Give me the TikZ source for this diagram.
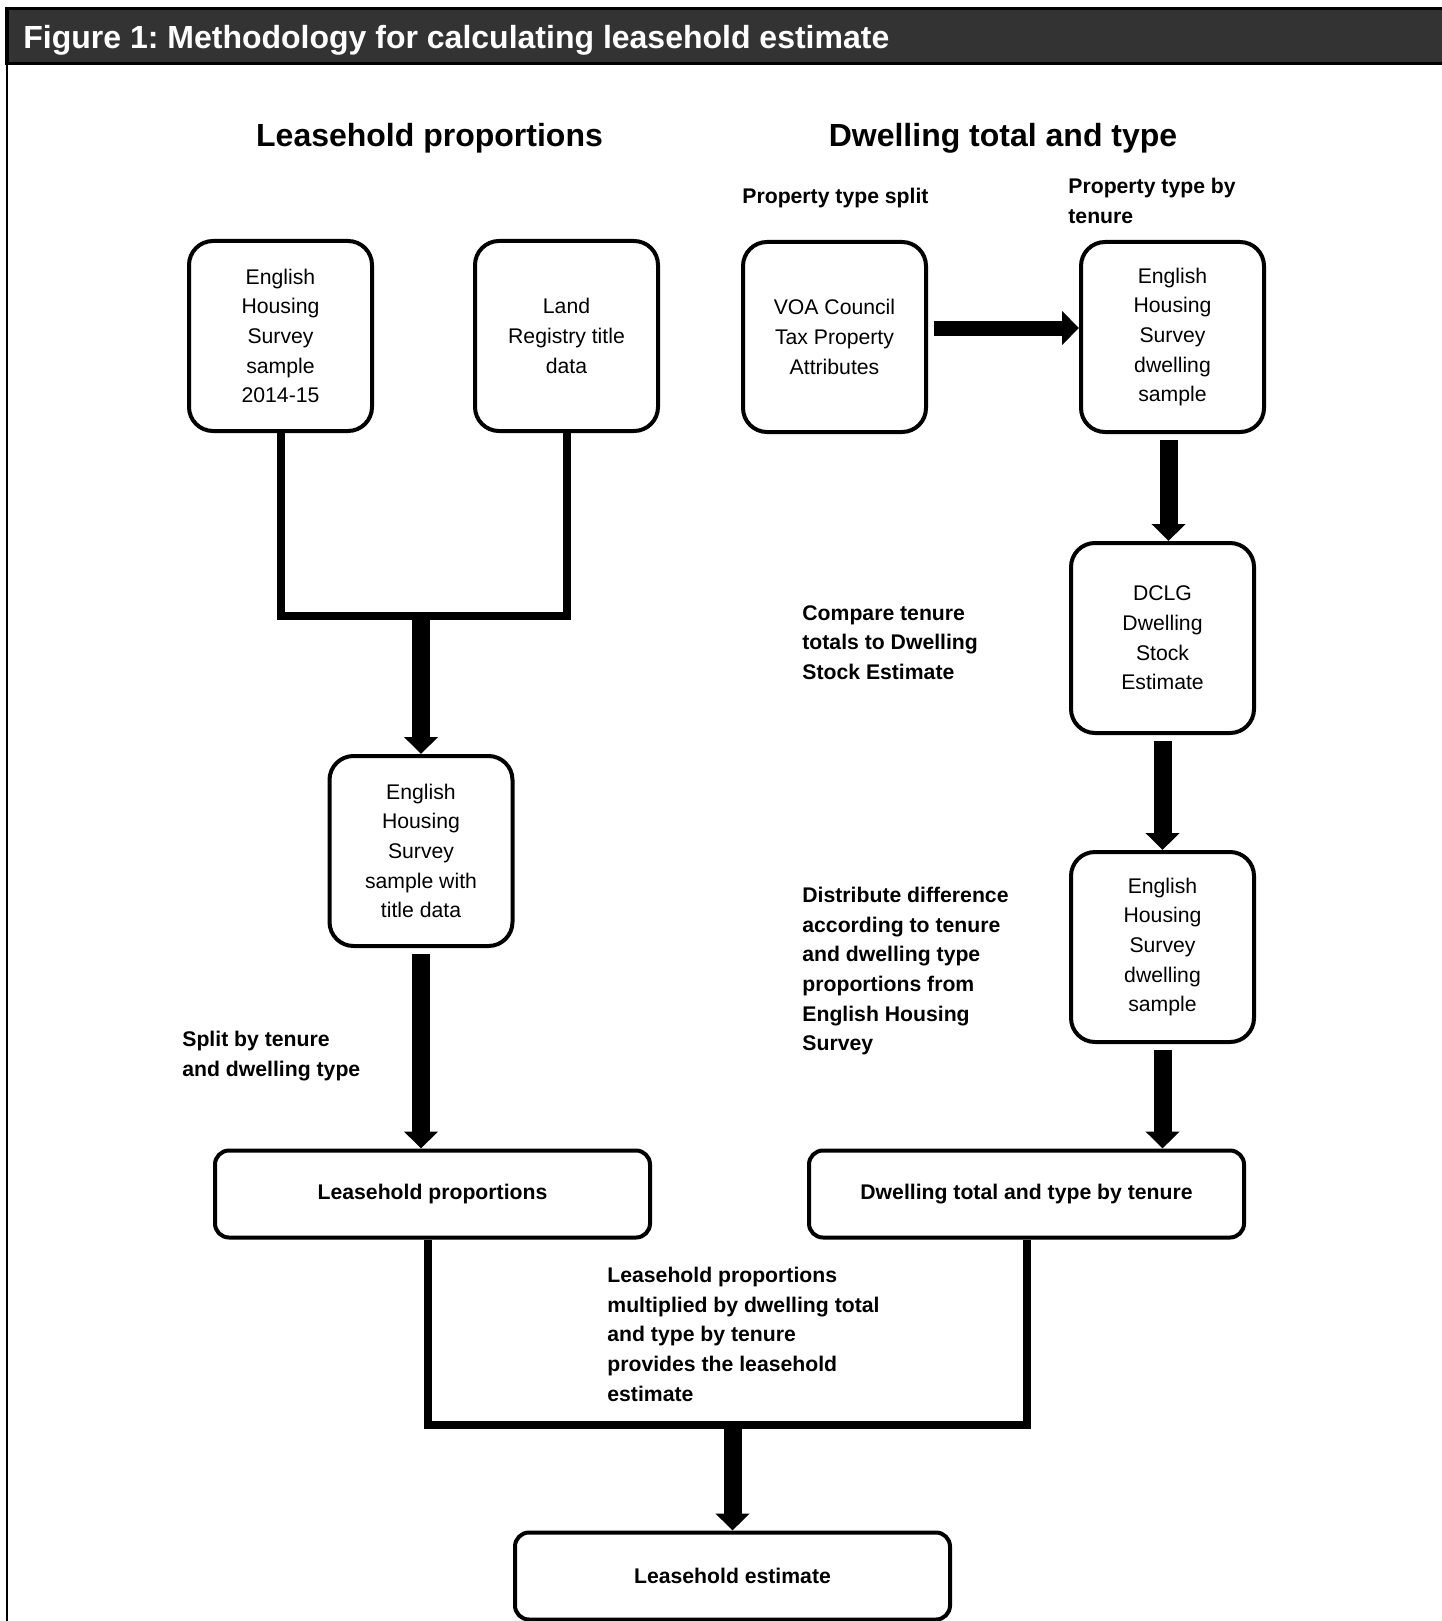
\documentclass[tikz,border=0pt]{standalone}
\usepackage{fontspec}
\setmainfont{Liberation Sans}
\usetikzlibrary{arrows.meta, positioning, calc}
\definecolor{barGrey}{RGB}{51,51,51}
\newcommand{\boxfont}{\fontsize{10.6}{14.8}\selectfont}
\newcommand{\headfont}{\fontsize{16}{19}\selectfont\bfseries}
\frenchspacing
\tikzset{
  % tall rounded box holding a data source
  box/.style={
    draw, line width=2pt, rounded corners=12pt,
    align=center, font=\boxfont, inner sep=2pt,
    minimum width=91.5pt, minimum height=95pt
  },
  % wide box holding a result
  wide/.style={box, rounded corners=7pt, font=\boxfont\bfseries,
               minimum width=217.5pt, minimum height=43.5pt},
  % plain joining lines and the fat arrows
  link/.style={line width=4pt},
  flow/.style={-{Triangle[width=16.5pt,length=8.5pt]}, line width=9pt, shorten <=3pt},
  % bold side notes and the column headings
  note/.style={font=\boxfont\bfseries, align=left, anchor=north west, inner sep=0pt},
  heading/.style={font=\headfont, anchor=base, inner sep=0pt},
}

\begin{document}
\begin{tikzpicture}[x=0.5pt, y=-0.5pt]
\useasboundingbox (0,0) rectangle (1441,1621);

% ===========================================================================
% TITLE BAR AND FRAME
% ===========================================================================
\draw[line width=1.65pt, fill=barGrey] (7,8.3) rectangle (1460,63.3);
\node[font=\headfont, text=white, anchor=base west, inner sep=0pt] (title) at (23,49)
      {Figure 1: Methodology for calculating leasehold estimate};
\draw[line width=1.4pt] (7,63.3) -- (7,1630);

\node[heading] (headL) at (429.5,147) {Leasehold proportions};
\node[heading] (headR) at (1003,147) {Dwelling total and type};

% ===========================================================================
% LEFT COLUMN: leasehold proportions
% ===========================================================================
\node[box] (ehs) at (280.5,336) {English\\Housing\\Survey\\sample\\2014-15};
\node[box] (land) at (566.5,336) {Land\\Registry title\\data};
\node[box] (ehstitle) at (421,851) {English\\Housing\\Survey\\sample with\\title data};
\node[wide] (lhprop) at (432.5,1194) {Leasehold proportions};

\node[note] (splitnote) at (182,1031) {Split by tenure\\and dwelling type};

\coordinate (joinL) at ($(ehstitle.north)+(0,-138)$);
\draw[link] (ehs.south) |- (joinL) -| (land.south);
\draw[flow, shorten <=1pt] (joinL) -- (ehstitle.north);
\draw[flow] (ehstitle.south) -- (ehstitle.south |- lhprop.north);

% ===========================================================================
% RIGHT COLUMN: dwelling total and type
% ===========================================================================
\node[box] (voa) at (834.5,337) {VOA Council\\Tax Property\\Attributes};
\node[box] (ehsdw) at (1172.5,337) {English\\Housing\\Survey\\dwelling\\sample};
\node[box] (dclg) at (1162.5,638) {DCLG\\Dwelling\\Stock\\Estimate};
\node[box] (ehsdist) at (1162.5,947) {English\\Housing\\Survey\\dwelling\\sample};
\node[wide] (dwtot) at (1026.5,1194) {Dwelling total and type by tenure};

\node[note] (typenote) at (742,188) {Property type split};
\node[note] (tenurenote) at (1068,178) {Property type by\\tenure};
\node[note] (comparenote) at (802,605) {Compare tenure\\totals to Dwelling\\Stock Estimate};
\node[note] (distnote) at (802,887)
      {Distribute difference\\according to tenure\\and dwelling type\\proportions from\\English Housing\\Survey};

\draw[flow, line width=7.5pt] ([yshift=4.5pt]voa.east) -- ([yshift=4.5pt]ehsdw.west);
\draw[flow] ([xshift=-2pt]ehsdw.south) -- ([xshift=-2pt]ehsdw.south |- dclg.north);
\draw[flow] (dclg.south) -- (ehsdist.north);
\draw[flow] (ehsdist.south) -- (ehsdist.south |- dwtot.north);

% ===========================================================================
% BOTTOM: combine into the estimate
% ===========================================================================
\node[wide] (lhest) at (732.5,1576) {Leasehold estimate};
\node[note] (multnote) at (607,1267)
      {Leasehold proportions\\multiplied by dwelling total\\and type by tenure\\provides the leasehold\\estimate};

\coordinate (joinB) at ($(lhest.north)+(0,-106)$);
\draw[link] ([xshift=-2.5pt]lhprop.south) |- (joinB) -| (dwtot.south);
\draw[flow, shorten <=1pt] (joinB) -- (lhest.north);

\end{tikzpicture}
\end{document}
